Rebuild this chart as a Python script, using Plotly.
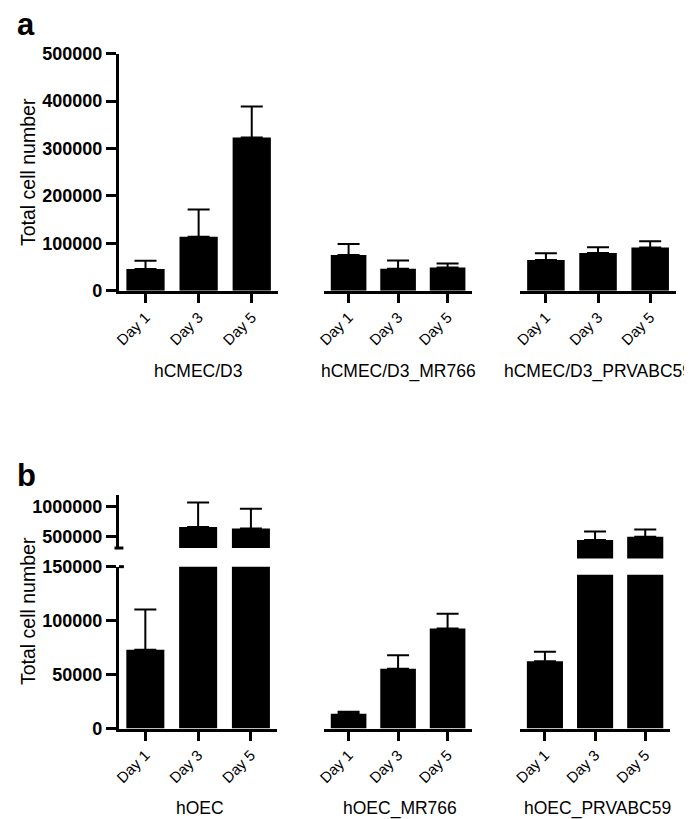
import plotly.graph_objects as go

W, H = 692, 819

days = ["Day 1", "Day 3", "Day 5"]
groups_a = ["hCMEC/D3", "hCMEC/D3_MR766", "hCMEC/D3_PRVABC59"]
groups_b = ["hOEC", "hOEC_MR766", "hOEC_PRVABC59"]

# Panel a: mean and upper error (SD)
a_d3_mean = [45800, 113800, 323300]
a_d3_err = [17100, 57700, 65400]
a_mr766_mean = [75300, 46400, 49100]
a_mr766_err = [23300, 17100, 8200]
a_prv_mean = [65000, 79400, 91100]
a_prv_err = [13800, 12400, 13000]

# Panel b
b_hoec_mean = [72900, 661000, 635500]
b_hoec_err = [37400, 403500, 325800]
b_mr766_mean = [13600, 55400, 92800]
b_mr766_err = [2000, 12400, 13500]
b_prv_mean = [62400, 446800, 500000]
b_prv_err = [8700, 140300, 119400]

a_yticks = [0, 100000, 200000, 300000, 400000, 500000]
b_low_ticks = [0, 50000, 100000, 150000]
b_up_ticks = [500000, 1000000]

FONT = "Liberation Sans, Arial, sans-serif"


def xd(a, b):
    return [a / W, b / W]


def yd(top, bottom):
    return [1 - bottom / H, 1 - top / H]


fig = go.Figure()
layout = {}

# subplot definitions: (index, xdom px, ydom px (top,bottom), yrange, show y axis, yticks, show x axis, means, errs)
subplots = [
    (1, (105, 266), (36.7, 279.5), [0, 500000], True, a_yticks, True, a_d3_mean, a_d3_err),
    (2, (312, 462), (36.7, 279.5), [0, 500000], False, None, True, a_mr766_mean, a_mr766_err),
    (3, (510, 668), (36.7, 279.5), [0, 500000], False, None, True, a_prv_mean, a_prv_err),
    (4, (105, 265), (562.4, 728.3), [0, 150000], True, b_low_ticks, True, b_hoec_mean, b_hoec_err),
    (5, (105, 265), (489, 543.3), [313000, 1189000], True, b_up_ticks, False, b_hoec_mean, b_hoec_err),
    (6, (312, 462), (562.4, 728.3), [0, 150000], False, None, True, b_mr766_mean, b_mr766_err),
    (7, (510, 662), (570.7, 728.3), [0, 142500], False, None, True, b_prv_mean, b_prv_err),
    (8, (510, 662), (489, 554), [140300, 1189000], False, None, False, b_prv_mean, b_prv_err),
]

for idx, xdom, ydom, yr, showy, yt, showx, means, errs in subplots:
    sfx = "" if idx == 1 else str(idx)
    fig.add_trace(go.Bar(
        x=days, y=means,
        xaxis="x" + sfx, yaxis="y" + sfx,
        width=0.72,
        marker=dict(color="black", line=dict(width=0)),
        error_y=dict(type="data", symmetric=False, array=errs,
                     arrayminus=[0] * len(errs), color="black",
                     thickness=2, width=11),
        showlegend=False, hoverinfo="skip",
    ))
    xa = dict(domain=xd(*xdom), anchor="y" + sfx, range=[-0.5, 2.5],
              type="category", fixedrange=True)
    if showx:
        xa.update(showline=True, linecolor="black", linewidth=3,
                  ticks="outside", ticklen=9, tickwidth=3, tickcolor="black",
                  tickangle=-45, tickfont=dict(family=FONT, size=15, color="black"),
                  showgrid=False, zeroline=False)
    else:
        xa.update(visible=False)
    ya = dict(domain=yd(*ydom), anchor="x" + sfx, range=yr, fixedrange=True,
              showgrid=False, zeroline=False)
    if showy:
        ya.update(showline=True, linecolor="black", linewidth=3,
                  ticks="outside", ticklen=10, tickwidth=3, tickcolor="black",
                  tickmode="array", tickvals=yt, ticktext=[str(v) for v in yt],
                  tickfont=dict(family=FONT, size=18, color="black", weight="bold"))
    else:
        ya.update(visible=False)
    layout["xaxis" + sfx] = xa
    layout["yaxis" + sfx] = ya

fig.update_layout(**layout)

annotations = []
# panel letters
annotations.append(dict(text="<b>a</b>", x=0 / W, y=1 - 7 / H, xref="paper", yref="paper",
                        xanchor="left", yanchor="middle", showarrow=False,
                        font=dict(family=FONT, size=31, color="black")))
annotations.append(dict(text="<b>b</b>", x=0 / W, y=1 - 469 / H, xref="paper", yref="paper",
                        xanchor="left", yanchor="middle", showarrow=False,
                        font=dict(family=FONT, size=31, color="black")))
# y titles
for yc in (158, 608):
    annotations.append(dict(text="Total cell number", x=13 / W, y=1 - yc / H,
                            xref="paper", yref="paper", textangle=-90,
                            xanchor="center", yanchor="middle", showarrow=False,
                            font=dict(family=FONT, size=19.5, color="black")))
# group labels
for name, (x0, x1) in zip(groups_a, [(105, 266), (312, 462), (510, 668)]):
    cx = (x0 + 27 + x1 - 27) / 2
    annotations.append(dict(text=name, x=cx / W, y=1 - 362 / H, xref="paper", yref="paper",
                            xanchor="center", yanchor="middle", showarrow=False,
                            font=dict(family=FONT, size=17.5, color="black")))
for name, (x0, x1) in zip(groups_b, [(105, 265), (312, 462), (510, 662)]):
    cx = (x0 + x1) / 2 + 2
    annotations.append(dict(text=name, x=cx / W, y=1 - 810 / H, xref="paper", yref="paper",
                            xanchor="center", yanchor="middle", showarrow=False,
                            font=dict(family=FONT, size=17.5, color="black")))

shapes = [
    # break cap at bottom of upper segment
    dict(type="line", xref="paper", yref="paper", x0=100.5 / W, x1=109.5 / W,
         y0=1 - 543.3 / H, y1=1 - 543.3 / H, line=dict(color="black", width=3)),
    # extension of the 150000 tick to the right of the axis
    dict(type="line", xref="paper", yref="paper", x0=105 / W, x1=110 / W,
         y0=1 - 562.4 / H, y1=1 - 562.4 / H, line=dict(color="black", width=3)),
]

fig.update_layout(
    width=W, height=H, margin=dict(l=0, r=0, t=0, b=0),
    paper_bgcolor="white", plot_bgcolor="white",
    annotations=annotations, shapes=shapes,
    font=dict(family=FONT, color="black"),
    bargap=0.28,
)

fig.write_html("out.html")
